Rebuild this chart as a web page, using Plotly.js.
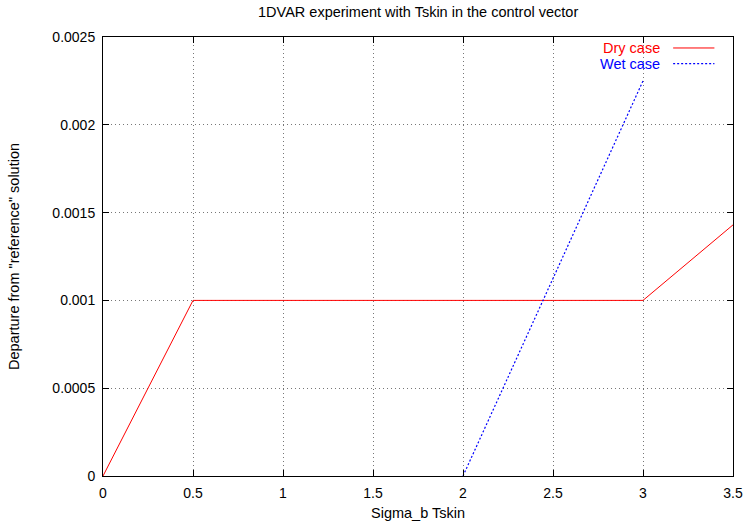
<!DOCTYPE html>
<html>
<head>
<meta charset="utf-8">
<script src="https://cdn.plot.ly/plotly-3.0.1.min.js"></script>
<style>html,body{margin:0;padding:0;background:#fff;}#chart{width:744px;height:525px;}</style>
</head>
<body>
<div id="chart"></div>
<script>
const dryX = [0, 0.5, 3, 3.5];
const dryY = [0, 0.001, 0.001, 0.00143];
const wetX = [2, 3];
const wetY = [0, 0.00225];
const xTicks = [0, 0.5, 1, 1.5, 2, 2.5, 3, 3.5];
const xTickText = ["0", "0.5", "1", "1.5", "2", "2.5", "3", "3.5"];
const yTicks = [0, 0.0005, 0.001, 0.0015, 0.002, 0.0025];
const yTickText = ["0", "0.0005", "0.001", "0.0015", "0.002", "0.0025"];
const seriesNames = ["Dry case", "Wet case"];

const fam = "Liberation Sans, Arial, Helvetica, sans-serif";
const font = {family: fam, size: 14.5, color: "#000"};
const tickFont = {family: fam, size: 14, color: "#000"};

const traces = [
  {x: dryX, y: dryY, mode: "lines", name: seriesNames[0], line: {color: "#ff0000", width: 1}, showlegend: false},
  {x: wetX, y: wetY, mode: "lines", name: seriesNames[1], line: {color: "#0000ff", width: 1.2, dash: "2px,2px"}, showlegend: false}
];

const axisCommon = {
  showline: true, linecolor: "#000", linewidth: 1, mirror: "ticks",
  ticks: "inside", ticklen: 6, tickcolor: "#000", tickwidth: 1,
  showgrid: true, gridcolor: "#777", griddash: "1px,3px", gridwidth: 1,
  zeroline: false, tickfont: tickFont
};

const layout = {
  width: 744, height: 525,
  margin: {l: 103, r: 11, t: 37, b: 49},
  paper_bgcolor: "#fff", plot_bgcolor: "#fff",
  font: font,
  title: {text: "1DVAR experiment with Tskin in the control vector", font: font, x: 0.562, xanchor: "center", y: 0.977, yanchor: "middle"},
  xaxis: Object.assign({}, axisCommon, {range: [0, 3.5], tickvals: xTicks, ticktext: xTickText, ticklabelstandoff: 4,
    title: {text: "Sigma_b Tskin", font: font, standoff: 8}}),
  yaxis: Object.assign({}, axisCommon, {range: [0, 0.0025], tickvals: yTicks, ticktext: yTickText, ticklabelstandoff: 4,
    title: {text: "Departure from \"reference\" solution", font: font, standoff: 29}}),
  annotations: [
    {xref: "paper", yref: "paper", x: 0.8876, y: 0.975, xanchor: "right", yanchor: "middle", text: seriesNames[0], showarrow: false, font: Object.assign({}, font, {color: "#ff0000"})},
    {xref: "paper", yref: "paper", x: 0.8876, y: 0.9395, xanchor: "right", yanchor: "middle", text: seriesNames[1], showarrow: false, font: Object.assign({}, font, {color: "#0000ff"})}
  ],
  shapes: [
    {type: "line", xref: "paper", yref: "paper", x0: 0.905, x1: 0.9705, y0: 0.975, y1: 0.975, line: {color: "#ff0000", width: 1}},
    {type: "line", xref: "paper", yref: "paper", x0: 0.905, x1: 0.9705, y0: 0.9395, y1: 0.9395, line: {color: "#0000ff", width: 1.2, dash: "2px,2px"}}
  ]
};

Plotly.newPlot("chart", traces, layout, {displayModeBar: false, staticPlot: true});
</script>
</body>
</html>
